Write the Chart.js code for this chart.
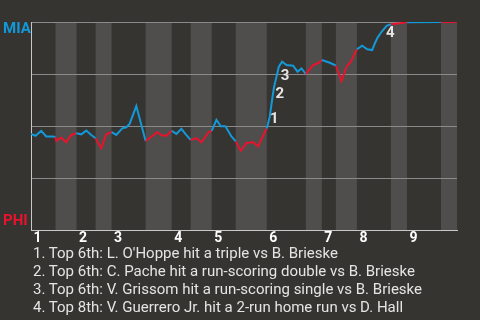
<!DOCTYPE html>
<html><head><meta charset="utf-8">
<script src="https://cdn.jsdelivr.net/npm/chart.js@4/dist/chart.umd.min.js"></script>
<style>
html,body{margin:0;padding:0;background:#363430;width:480px;height:320px;overflow:hidden;}
#wrap{position:relative;width:480px;height:320px;}
canvas{position:absolute;left:0;top:0;}
#notes{position:absolute;left:33px;top:244px;font:15px Roboto,sans-serif;line-height:18px;color:#e4e4e4;white-space:nowrap;}
</style></head><body>
<div id="wrap"><canvas id="c" width="480" height="320"></canvas><div id="notes"></div></div>
<script>
const topTeam = 'MIA';
const bottomTeam = 'PHI';
const innings = ['1','2','3','4','5','6','7','8','9'];
// game progress (0-100) where each half-inning begins (top, bottom, top, ...)
const halfInningStarts = [0,5.76,10.69,15.16,18.92,26.91,33.02,37.48,42.42,48.06,55.35,64.51,68.27,71.56,76.5,84.49,88.25,96.24];
// game progress of each play
const progress = [0,1.06,2.40,3.57,5.12,5.76,5.92,7.10,8.27,9.45,10.62,11.80,12.97,14.15,15.16,16.50,17.67,18.92,20.02,21.43,22.37,23.15,24.72,26.91,29.66,30.67,31.85,33.02,34.12,35.30,36.24,37.48,38.83,40.0,41.72,42.42,43.53,44.54,45.64,47.05,48.06,49.24,50.58,52.13,53.30,55.04,55.35,56.05,56.59,57.06,57.63,58.17,58.94,59.98,61.53,62.56,63.50,64.51,66.23,67.57,68.27,70.15,71.56,72.90,74.08,75.09,76.5,77.74,78.92,80.09,80.73,81.36,82.30,83.48,84.49,86.6,88.25,96.24,100];
// win probability for MIA (%)
const winProb = [46.2,45.3,47.7,45.0,44.9,44.7,42.9,44.4,42.2,45.7,46.5,46.0,47.8,45.7,44.1,39.4,46.0,47.1,45.7,48.9,49.4,51.0,59.6,42.8,47.0,45.5,45.3,47.7,46.2,48.7,46.2,43.3,44.2,42.2,47.1,47.7,53.0,49.9,49.9,45.0,42.6,38.1,41.8,42.2,40.2,47.7,48.8,54.5,62.5,68.9,73.7,78.5,80.9,79.3,79.0,76.1,77.7,75.0,79.3,80.4,81.7,80.4,79.1,71.6,78.5,80.9,86.9,88.6,86.9,86.5,89.8,92.5,95.3,98.2,98.9,99.4,99.9,100,100];
// key plays: index of the play, marker text
const keyPlayIndex = [47,48,50,74];
const keyPlayMark = ['1','2','3','4'];
const keyPlayNotes = [
  "1. Top 6th: L. O'Hoppe hit a triple vs B. Brieske",
  "2. Top 6th: C. Pache hit a run-scoring double vs B. Brieske",
  "3. Top 6th: V. Grissom hit a run-scoring single vs B. Brieske",
  "4. Top 8th: V. Guerrero Jr. hit a 2-run home run vs D. Hall"
];
const markOffsets = [[4.5,2.8],[7.7,-5.3],[8.6,-0.7],[-0.7,9.4]];

const BLUE = '#1199d9', RED = '#e8132d', STRIPE = '#4f4e4c', GRID = '#8a8a8a', AXIS = '#c8c8c8';

function halfIndex(x){ let h=0; for(let i=0;i<halfInningStarts.length;i++){ if(x>=halfInningStarts[i]) h=i; } return h; }

const points = progress.map((x,i)=>({x:x,y:winProb[i]}));

const decor = {
  id:'decor',
  beforeDraw(chart){
    const {ctx, chartArea:a, scales:{x}} = chart;
    ctx.save();
    ctx.fillStyle = STRIPE;
    for(let i=1;i<halfInningStarts.length;i+=2){
      const x0 = x.getPixelForValue(halfInningStarts[i]);
      const x1 = x.getPixelForValue(i+1<halfInningStarts.length?halfInningStarts[i+1]:100);
      ctx.fillRect(x0, a.top, x1-x0, a.bottom-a.top);
    }
    ctx.restore();
  },
  afterDraw(chart){
    const {ctx, chartArea:a, scales:{x,y}} = chart;
    ctx.save();
    ctx.textBaseline = 'alphabetic';
    ctx.textAlign = 'left';
    ctx.font = 'bold 15px Roboto';
    ctx.fillStyle = BLUE; ctx.fillText(topTeam, 3, 33);
    ctx.fillStyle = RED; ctx.fillText(bottomTeam, 3, 225);
    ctx.font = 'bold 14px Roboto';
    ctx.fillStyle = '#ffffff';
    innings.forEach((t,i)=>{
      ctx.fillText(t, x.getPixelForValue(halfInningStarts[i*2])+2.5, 242);
    });
    ctx.font = 'bold 15px Roboto';
    ctx.fillStyle = '#e6e6e6';
    ctx.textAlign = 'center';
    ctx.textBaseline = 'middle';
    keyPlayIndex.forEach((pi,k)=>{
      const px = x.getPixelForValue(progress[pi]) + markOffsets[k][0];
      const py = y.getPixelForValue(winProb[pi]) + markOffsets[k][1];
      ctx.fillText(keyPlayMark[k], px, py);
    });
    ctx.restore();
  }
};

new Chart(document.getElementById('c'), {
  type:'line',
  data:{datasets:[{
    data: points,
    borderWidth: 2,
    pointRadius: 0,
    tension: 0,
    borderColor: BLUE,
    segment:{ borderColor: c => halfIndex((c.p0.parsed.x+c.p1.parsed.x)/2)%2===0 ? BLUE : RED }
  }]},
  options:{
    responsive:false,
    animation:false,
    events:[],
    layout:{padding:{left:31,right:23,top:22,bottom:90}},
    plugins:{legend:{display:false},tooltip:{enabled:false}},
    scales:{
      x:{type:'linear',min:0,max:100,
         grid:{display:false,drawTicks:false},
         border:{display:true,color:AXIS,width:1},
         ticks:{display:false}},
      y:{min:0,max:100,
         ticks:{display:false,stepSize:25},
         grid:{drawTicks:false,color:c=>c.tick.value===0?AXIS:GRID,lineWidth:1},
         border:{display:true,color:AXIS,width:1}}
    }
  },
  plugins:[decor]
});
document.getElementById('notes').innerHTML = keyPlayNotes.map(s=>'<div>'+s.replace(/&/g,'&amp;').replace(/</g,'&lt;')+'</div>').join('');
</script>
</body></html>
